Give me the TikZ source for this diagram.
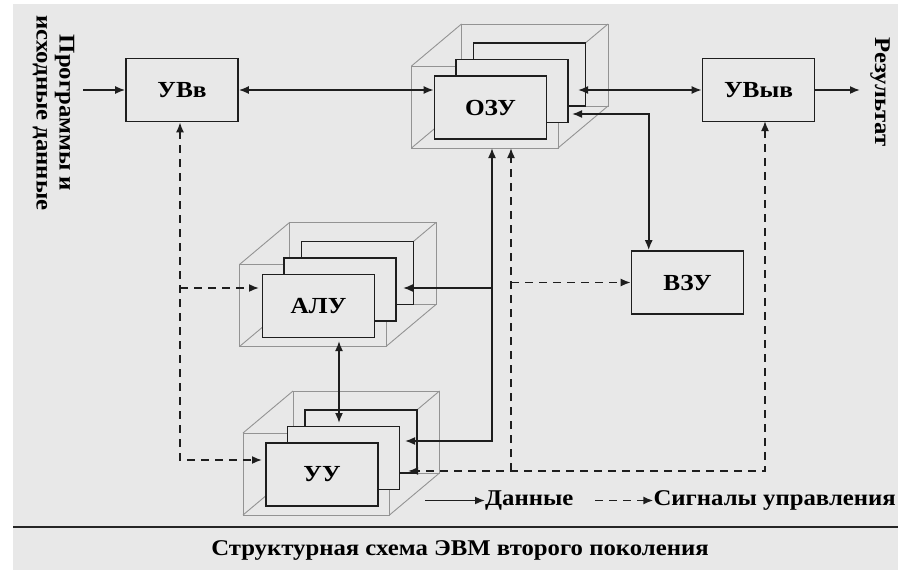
\documentclass[tikz,border=0pt]{standalone}
\usepackage{fontspec}
\setmainfont{Liberation Serif}
\newfontfamily\wideserif[FakeStretch=1.1]{Liberation Serif}
\usetikzlibrary{arrows, arrows.meta}
\definecolor{bggray}{HTML}{E8E8E8}
\definecolor{ink}{HTML}{1E1E1E}
\tikzset{
  unit/.style={draw=ink, line width=1.6pt, fill=bggray, minimum width=112, minimum height=63, inner sep=0pt, font=\wideserif\bfseries\fontsize{23}{23}\selectfont},
  cube/.style={draw=gray!85, line width=0.9pt},
  data/.style={draw=ink, line width=1.7pt},
  ctrl/.style={draw=ink, line width=1.7pt, dash pattern=on 8pt off 6pt},
  legend/.style={inner sep=0pt, font=\wideserif\bfseries\fontsize{22.5}{23}\selectfont},
}

\begin{document}
\begin{tikzpicture}[x=1pt, y=-1pt, >={Latex[length=10pt,width=8pt]}]
\useasboundingbox (0,0) rectangle (898,570);
\fill[white] (0,0) rectangle (898,570);
\fill[bggray] (13,4) rectangle (898,570);

% blocks in three layers
\foreach \cx/\cy/\n/\lab in {490.5/107.5/ozu/ОЗУ, 318.5/306/alu/АЛУ, 322/474.5/uu/УУ}{
  \draw[cube] (\cx-79,\cy-41.5) rectangle (\cx+67.5,\cy+40.5);
  \draw[cube] (\cx-29,\cy-83.5) rectangle (\cx+117.5,\cy-1.5);
  \draw[cube] (\cx-79,\cy-41.5) -- (\cx-29,\cy-83.5)
              (\cx+67.5,\cy-41.5) -- (\cx+117.5,\cy-83.5)
              (\cx-79,\cy+40.5) -- (\cx-29,\cy-1.5)
              (\cx+67.5,\cy+40.5) -- (\cx+117.5,\cy-1.5);
  \node[unit] (\n3) at (\cx+39,\cy-33) {};
  \node[unit] (\n2) at (\cx+21.5,\cy-16.5) {};
  \node[unit] (\n) at (\cx,\cy) {\lab};
}

\node[unit] (uvv) at (182,90) {УВв};
\node[unit] (uvyv) at (758.5,90) {УВыв};
\node[unit] (vzu) at (687.5,282.5) {ВЗУ};

\node[legend, rotate=-90, align=center] (src) at (53.5,113) {Программы и\\исходные данные};
\node[legend, rotate=-90] (res) at (880,92) {Результат};

\coordinate (inA) at (83,90);
\coordinate (outA) at (860,90);
\coordinate (ozuR) at (578,90);
\coordinate (ozuS) at (572,114);
\coordinate (ozuB1) at (492,148);
\coordinate (ozuB2) at (511,148);
\coordinate (aluL) at (259,288);
\coordinate (aluR) at (403,288);
\coordinate (aluB) at (339,341);
\coordinate (uuT) at (339,423);
\coordinate (uuL) at (262,460);
\coordinate (uuR1) at (405,441);
\coordinate (uuR2) at (408,471);
\coordinate (uvyvS) at (765,121);

% data
\draw[data,->] (inA) -- (uvv.west);
\draw[data,<->] (uvv.east) -- (uvv.east -| ozu.west);
\draw[data,<->] (ozuR) -- (uvyv.west);
\draw[data,->] (uvyv.east) -- (outA);
\draw[data,<->] (ozuS) -| ([xshift=18pt]vzu.north west);
\draw[data,<->] (ozuB1) |- (uuR1);
\draw[data,->] (ozuB1 |- aluR) -- (aluR);
\draw[data,<->] (aluB) -- (uuT);

% control
\draw[ctrl,<->] ([xshift=-2pt]uvv.south) |- (uuL);
\draw[ctrl,->] (180,288) -- (aluL);
\draw[ctrl,<->] (uvyvS) |- (uuR2);
\draw[ctrl,->] (ozuB2 |- uuR2) -- (ozuB2);
\draw[ctrl,->] (ozuB2 |- vzu.west) -- (vzu.west);

% legend
\node[legend, anchor=west] (dat) at (485,500.5) {Данные};
\node[legend, anchor=east] (sig) at (896,500.5) {Сигналы управления};
\draw[data,->] (425,500.5) -- (dat.west);
\draw[ctrl,->] ([xshift=-58pt]sig.west) -- (sig.west);

\draw[line width=2pt, draw=gray!30!black] (13,526.5) -- (898,526.5);
\node[legend] (cap) at (460,550) {Структурная схема ЭВМ второго поколения};
\end{tikzpicture}
\end{document}
